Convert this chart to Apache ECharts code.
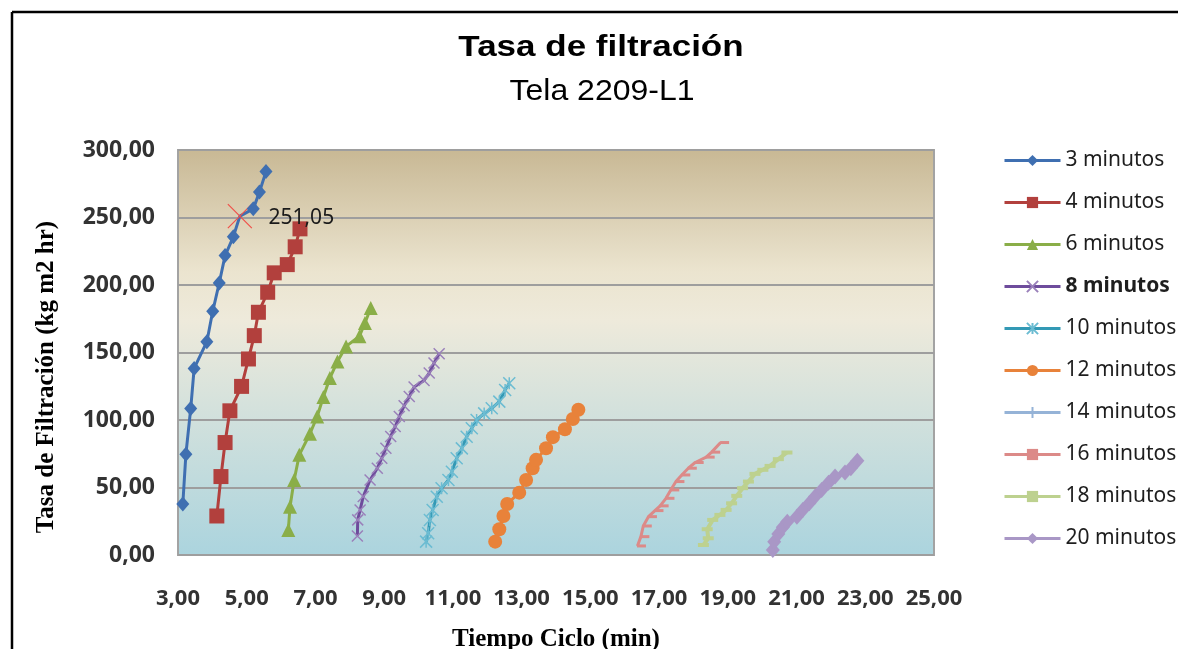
<!DOCTYPE html>
<html>
<head>
<meta charset="utf-8">
<script src="https://cdn.jsdelivr.net/npm/echarts@6/dist/echarts.min.js"></script>
<style>
  html, body { margin: 0; padding: 0; background: #ffffff; }
  #chart { width: 1178px; height: 649px; }
</style>
</head>
<body>
<div id="chart"></div>
<script>
// Tasa de filtración vs. tiempo de ciclo, tela 2209-L1
const seriesNames = ['3 minutos', '4 minutos', '6 minutos', '8 minutos', '10 minutos',
                     '12 minutos', '14 minutos', '16 minutos', '18 minutos', '20 minutos'];

const xTickLabels = [3, 5, 7, 9, 11, 13, 15, 17, 19, 21, 23, 25];
const yTickLabels = [0, 50, 100, 150, 200, 250, 300];

// Tiempo de ciclo (min) and tasa de filtración (kg/m2 hr) per series
const t3  = [3.14, 3.23, 3.37, 3.47, 3.84, 4.01, 4.20, 4.37, 4.61, 4.80, 5.19, 5.37, 5.56];
const r3  = [37.8, 74.7, 108.5, 138.2, 158.0, 180.5, 201.5, 221.8, 235.7, 251.05, 256.4, 268.8, 284.0];

const t4  = [4.13, 4.25, 4.37, 4.51, 4.85, 5.05, 5.22, 5.34, 5.61, 5.80, 6.18, 6.41, 6.55];
const r4  = [28.9, 58.1, 83.3, 106.8, 124.9, 145.2, 162.5, 179.8, 194.6, 209.0, 215.1, 228.3, 241.6];

const t6  = [6.21, 6.26, 6.38, 6.53, 6.84, 7.05, 7.23, 7.42, 7.64, 7.89, 8.28, 8.44, 8.61];
const r6  = [18.5, 35.8, 55.6, 74.2, 89.8, 102.6, 117.0, 131.1, 143.4, 154.5, 162.0, 171.9, 183.0];

const t8  = [8.22, 8.23, 8.30, 8.39, 8.59, 8.80, 8.93, 9.05, 9.19, 9.32, 9.44, 9.58, 9.73, 9.87, 10.16, 10.31, 10.45, 10.60];
const r8  = [14.1, 26.0, 33.4, 43.3, 55.6, 64.3, 71.7, 79.1, 87.8, 95.2, 102.6, 110.5, 117.4, 124.4, 129.3, 134.8, 142.2, 149.1];

const t10 = [10.22, 10.28, 10.33, 10.41, 10.53, 10.67, 10.87, 10.97, 11.11, 11.26, 11.40, 11.55, 11.69, 11.91, 12.13, 12.35, 12.52, 12.64];
const r10 = [9.9, 16.1, 25.9, 33.3, 43.2, 49.4, 55.6, 61.7, 71.6, 79.0, 87.6, 93.9, 100.0, 104.9, 108.7, 113.6, 122.2, 127.2];

const t12 = [12.23, 12.35, 12.47, 12.58, 12.93, 13.13, 13.32, 13.42, 13.71, 13.91, 14.26, 14.49, 14.65];
const r12 = [9.9, 19.1, 28.9, 37.8, 46.2, 55.6, 64.3, 70.5, 79.1, 87.3, 93.2, 100.7, 107.6];

const t14 = [];
const r14 = [];

const t16 = [16.37, 16.47, 16.54, 16.69, 16.88, 17.03, 17.20, 17.34, 17.49, 17.66, 17.85, 18.05, 18.37, 18.53, 18.79];
const r16 = [6.7, 13.6, 21.5, 28.4, 32.9, 36.4, 42.0, 48.2, 54.4, 59.3, 64.3, 68.5, 72.5, 76.2, 83.3];

const t18 = [18.29, 18.43, 18.40, 18.56, 18.77, 18.95, 19.11, 19.26, 19.43, 19.60, 19.79, 20.02, 20.23, 20.47, 20.72];
const r18 = [7.4, 12.4, 19.1, 26.0, 29.7, 33.4, 38.3, 43.8, 49.5, 54.4, 60.1, 63.1, 66.0, 71.0, 75.9];

const t20 = [20.31, 20.35, 20.47, 20.60, 20.73, 21.01, 21.18, 21.37, 21.54, 21.73, 21.93, 22.12, 22.41, 22.58, 22.77];
const r20 = [3.7, 9.9, 15.6, 20.5, 24.7, 28.4, 33.4, 38.3, 43.3, 48.2, 53.6, 58.1, 61.1, 64.3, 69.9];

// Highlighted point of the 3-minute run
const markedIndex = 9;

const fmt = v => v.toFixed(2).replace('.', ',');
const zip = (xs, ys) => xs.map((x, i) => [x, ys[i]]);

const SYM_X = 'path://M0,0L10,10M10,0L0,10';
const SYM_STAR = 'path://M0,0L10,10M10,0L0,10M5,0L5,10';
const SYM_PLUS = 'path://M5,0L5,10M0,5L10,5';

function lineSeries(name, data, color, opts) {
  return Object.assign({
    name: name,
    type: 'line',
    data: data,
    smooth: false,
    lineStyle: { color: color, width: 3 },
    itemStyle: { color: color },
    emphasis: { disabled: true },
    z: 3
  }, opts);
}

const data3 = zip(t3, r3).map((p, i) => i === markedIndex ? {
  value: p,
  symbol: SYM_X,
  symbolSize: 24,
  itemStyle: { color: 'rgba(0,0,0,0)', borderColor: '#f0504a', borderWidth: 1.2 },
  label: {
    show: true,
    position: 'right',
    distance: 16,
    offset: [0, 2],
    formatter: () => fmt(p[1]),
    color: '#1a1a1a',
    fontFamily: 'Noto Sans',
    fontSize: 21
  },
  z: 10
} : p);

const series = [
  lineSeries(seriesNames[0], data3, '#3f6fb1', { symbol: 'diamond', symbolSize: [13, 15] }),
  lineSeries(seriesNames[1], zip(t4, r4), '#b2403d', { symbol: 'rect', symbolSize: 15 }),
  lineSeries(seriesNames[2], zip(t6, r6), '#8aae48', { symbol: 'triangle', symbolSize: 14 }),
  lineSeries(seriesNames[3], zip(t8, r8), '#6e4c9c', {
    symbol: SYM_X, symbolSize: 11,
    itemStyle: { color: '#9a80ba', borderColor: '#9a80ba', borderWidth: 1.5 }
  }),
  lineSeries(seriesNames[4], zip(t10, r10), '#3399b5', {
    symbol: SYM_STAR, symbolSize: 12,
    itemStyle: { color: '#6cbcd2', borderColor: '#6cbcd2', borderWidth: 1.5 }
  }),
  lineSeries(seriesNames[5], zip(t12, r12), '#e8823a', { symbol: 'circle', symbolSize: 14 }),
  lineSeries(seriesNames[6], zip(t14, r14), '#95b3d7', {
    symbol: SYM_PLUS, symbolSize: 12,
    itemStyle: { color: '#95b3d7', borderColor: '#95b3d7', borderWidth: 2 }
  }),
  lineSeries(seriesNames[7], zip(t16, r16), '#dc8a88', {
    symbol: 'rect', symbolSize: [9, 3], symbolOffset: [4, 0]
  }),
  lineSeries(seriesNames[8], zip(t18, r18), '#bdd18f', {
    symbol: 'rect', symbolSize: [11, 4], lineStyle: { color: '#bdd18f', width: 4 }
  }),
  lineSeries(seriesNames[9], zip(t20, r20), '#a997c6', {
    symbol: 'diamond', symbolSize: [14, 16], lineStyle: { color: '#a997c6', width: 5 }
  })
];

const boldLegend = new Set(['8 minutos']);

const chart = echarts.init(document.getElementById('chart'), null, { renderer: 'canvas' });

chart.setOption({
  animation: false,
  backgroundColor: '#ffffff',
  graphic: [
    { type: 'line', shape: { x1: 12, y1: 12, x2: 1178, y2: 12 }, style: { stroke: '#000', lineWidth: 2.5 }, silent: true },
    { type: 'line', shape: { x1: 12, y1: 12, x2: 12, y2: 649 }, style: { stroke: '#000', lineWidth: 2.5 }, silent: true },
    {
      type: 'text', x: 601, y: 48, scaleY: 0.85, silent: true,
      style: {
        text: 'Tasa de filtración', align: 'center', verticalAlign: 'middle',
        font: 'bold 35px "Liberation Sans", Arial, sans-serif', fill: '#000'
      }
    },
    {
      type: 'text', x: 602, y: 92, scaleY: 0.9, silent: true,
      style: {
        text: 'Tela 2209-L1', align: 'center', verticalAlign: 'middle',
        font: '32px "Liberation Sans", Arial, sans-serif', fill: '#000'
      }
    },
    {
      // y-axis title, reading bottom to top
      type: 'text', x: 47, y: 377, rotation: Math.PI / 2, silent: true,
      style: {
        text: 'Tasa de Filtración (kg m2 hr)', align: 'center', verticalAlign: 'middle',
        font: 'bold 25px "Liberation Serif", "Times New Roman", serif', fill: '#000'
      }
    }
  ],
  grid: {
    left: 178, top: 150, right: 244, bottom: 94,
    outerBoundsMode: 'none',
    containLabel: false,
    show: true,
    borderColor: '#a3a3a3',
    borderWidth: 2,
    backgroundColor: new echarts.graphic.LinearGradient(0, 0, 0, 1, [
      { offset: 0, color: '#c8b894' },
      { offset: 0.3, color: '#ebe4cf' },
      { offset: 0.42, color: '#eeeadb' },
      { offset: 0.62, color: '#d6e2dc' },
      { offset: 1, color: '#abd4de' }
    ])
  },
  legend: {
    orient: 'vertical',
    left: 998,
    top: 145,
    itemWidth: 56,
    itemHeight: 14,
    itemGap: 21,
    lineStyle: { width: 3 },
    data: seriesNames.map(n => boldLegend.has(n)
      ? { name: n, textStyle: { fontWeight: 'bold' } }
      : { name: n }),
    textStyle: {
      fontFamily: 'Noto Sans',
      fontSize: 21,
      color: '#1e1e1e',
      padding: [0, 0, 0, 0]
    },
    selectedMode: false
  },
  xAxis: {
    type: 'value',
    min: 3,
    max: 25,
    interval: 1,
    name: 'Tiempo Ciclo (min)',
    nameLocation: 'middle',
    nameGap: 72,
    nameTextStyle: {
      fontFamily: '"Liberation Serif", "Times New Roman", serif',
      fontWeight: 'bold',
      fontSize: 25,
      color: '#000'
    },
    axisLine: { show: false },
    axisTick: { show: false },
    splitLine: { show: false },
    axisLabel: {
      margin: 33,
      formatter: v => xTickLabels.includes(v) ? fmt(v) : '',
      fontFamily: 'Noto Sans',
      fontWeight: 'bold',
      fontSize: 22,
      color: '#333'
    }
  },
  yAxis: {
    type: 'value',
    min: 0,
    max: 300,
    interval: 50,
    axisLine: { show: false },
    axisTick: { show: false },
    splitLine: { show: true, lineStyle: { color: '#9e9e9e', width: 2 } },
    axisLabel: {
      margin: 23,
      formatter: v => yTickLabels.includes(v) ? fmt(v) : '',
      fontFamily: 'Noto Sans',
      fontWeight: 'bold',
      fontSize: 23,
      color: '#333'
    }
  },
  series: series
});
</script>
</body>
</html>
